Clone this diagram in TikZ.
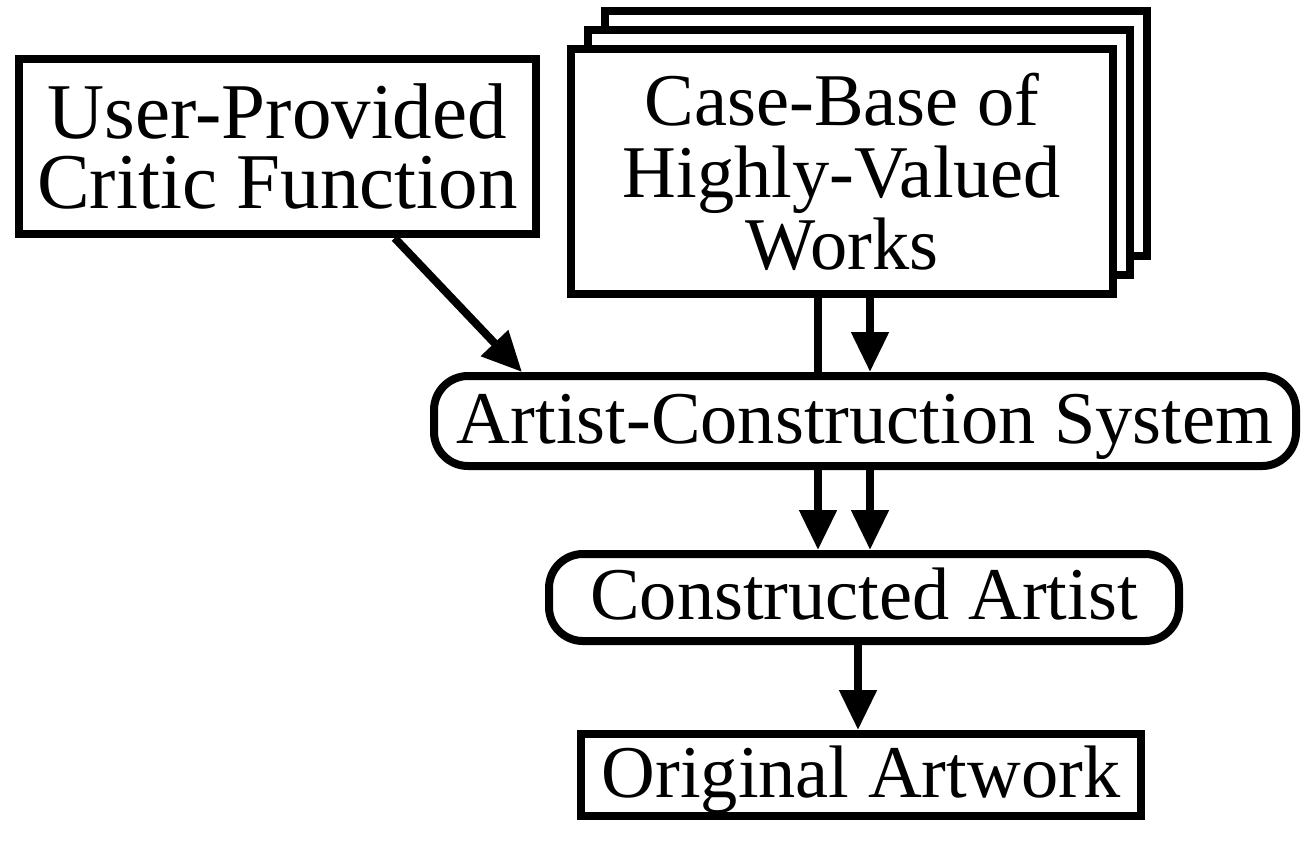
\documentclass[tikz,border=0pt]{standalone}
\usepackage{fontspec}
\setmainfont{Liberation Serif}
\usetikzlibrary{arrows.meta,shadows}

\begin{document}
\begin{tikzpicture}[x=0.5pt,y=-0.5pt,
  box/.style={draw,line width=4pt,fill=white,inner sep=0pt,align=center,
    font=\fontsize{37.2}{36}\selectfont},
  oneline/.style={box,text height=28pt,text depth=6pt},
  rbox/.style={oneline,rounded corners=17pt},
  arr/.style={line width=4pt,-{Triangle[length=20pt,width=18pt]}}]
\useasboundingbox (0,0) rectangle (1304,843);

\node[box,font=\fontsize{39.5}{35}\selectfont,minimum width=258.5pt,minimum height=87.5pt] (critic) at (277.5,146.5) {User-Provided\\Critic Function};
\node[box,minimum width=271pt,minimum height=122.5pt,
  double copy shadow={shadow xshift=8.5pt,shadow yshift=9.5pt}] (cases) at (842,171.5) {Case-Base of\\Highly-Valued\\Works};
\node[rbox,minimum width=431pt,minimum height=45pt] (acs) at (865,421) {Artist-Construction System};
\node[rbox,minimum width=315pt,minimum height=43.5pt] (artist) at (864,597.5) {Constructed Artist};
\node[oneline,minimum width=280pt,minimum height=41pt] (artwork) at (861,775) {Original Artwork};

\coordinate (left) at (818,0);
\coordinate (right) at (870,0);
\coordinate (mid) at (858,0);

\draw[arr] (critic.-38) -- ([xshift=46pt]acs.north west);
\draw[line width=4pt] (cases.south -| left) -- (acs.north -| left);
\draw[arr] (cases.south -| right) -- (acs.north -| right);
\draw[arr] (acs.south -| left) -- (artist.north -| left);
\draw[arr] (acs.south -| right) -- (artist.north -| right);
\draw[arr] (artist.south -| mid) -- (artwork.north -| mid);
\end{tikzpicture}
\end{document}
